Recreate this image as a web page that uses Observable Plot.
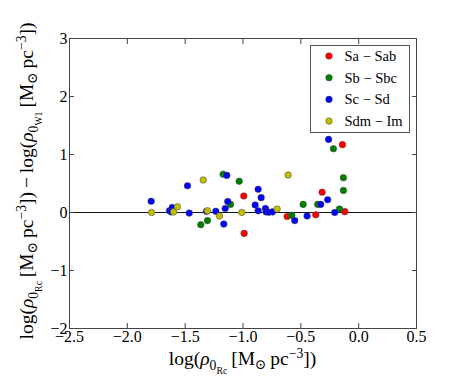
<!DOCTYPE html>
<html>
<head>
<meta charset="utf-8">
<script src="https://cdn.jsdelivr.net/npm/d3@7"></script>
<script src="https://cdn.jsdelivr.net/npm/@observablehq/plot@0.6"></script>
<style>
  html, body { margin: 0; padding: 0; background: #fff; }
  svg { font-family: "Liberation Serif", "DejaVu Serif", serif; }
</style>
</head>
<body>
<div id="chart"></div>
<script>
// ---- data ----
const categories = ["Sa \u2212 Sab", "Sb \u2212 Sbc", "Sc \u2212 Sd", "Sdm \u2212 Im"];
const colors = ["#ff0000", "#008000", "#0000ff", "#bfbf00"];

const saX = [-0.993, -0.99, -0.618, -0.371, -0.316, -0.14, -0.12];
const saY = [0.285, -0.36, -0.07, -0.04, 0.35, 1.17, 0.015];

const sbX = [-1.365, -1.307, -1.172, -1.108, -1.033, -0.578, -0.48, -0.354, -0.218, -0.166, -0.132, -0.132];
const sbY = [-0.21, -0.14, 0.66, 0.14, 0.54, -0.05, 0.14, 0.14, 1.10, 0.06, 0.60, 0.38];

const scX = [-1.794, -1.636, -1.612, -1.62, -1.48, -1.465, -1.316, -1.235, -1.166, -1.14, -1.132, -1.154, -0.869, -0.843, -0.895, -0.869, -0.806, -0.80, -0.777, -0.745, -0.553, -0.446, -0.328, -0.268, -0.26, -0.207];
const scY = [0.194, 0.03, 0.085, 0.01, 0.46, -0.01, 0.02, 0.02, -0.20, 0.64, 0.19, 0.07, 0.40, 0.256, 0.13, 0.03, 0.07, 0.01, 0.005, 0.01, -0.14, -0.06, 0.14, 0.22, 1.26, 0.0];

const sdX = [-1.79, -1.60, -1.567, -1.344, -1.307, -1.204, -1.01, -0.705, -0.61];
const sdY = [0.0, 0.01, 0.10, 0.56, 0.03, -0.06, 0.0, 0.06, 0.646];

const xTicks = [-2.5, -2.0, -1.5, -1.0, -0.5, 0.0, 0.5];
const yTicks = [-2, -1, 0, 1, 2, 3];

const seriesX = [saX, sbX, scX, sdX];
const seriesY = [saY, sbY, scY, sdY];
const points = [];
seriesX.forEach((xs, i) => xs.forEach((x, j) => points.push({x, y: seriesY[i][j], type: categories[i]})));

const W = 463, H = 386;
const mL = 69, mR = 47, mT = 38, mB = 58;

const plot = Plot.plot({
  width: W, height: H,
  marginLeft: mL, marginRight: mR, marginTop: mT, marginBottom: mB,
  style: {fontFamily: "Liberation Serif, DejaVu Serif, serif", background: "#fff"},
  x: {domain: [-2.5, 0.5]},
  y: {domain: [-2, 3]},
  color: {domain: categories, range: colors},
  marks: [
    Plot.ruleY([0], {stroke: "#111", strokeWidth: 1}),
    Plot.dot(points, {x: "x", y: "y", fill: "type", r: 3.3, stroke: "#444", strokeWidth: 0.5, fillOpacity: 1}),
    Plot.frame({stroke: "#444", strokeWidth: 1}),
    Plot.axisX({anchor: "bottom", ticks: xTicks, tickSize: -5, tickPadding: 7, tickFormat: d3.format(".1f"), label: null, fontSize: 16, stroke: "#444"}),
    Plot.axisX({anchor: "top", ticks: xTicks, tickSize: -5, tickFormat: () => "", label: null, stroke: "#444"}),
    Plot.axisY({anchor: "left", ticks: yTicks, tickSize: -5, tickPadding: 7, tickFormat: d3.format("d"), label: null, fontSize: 16, stroke: "#444"}),
    Plot.axisY({anchor: "right", ticks: yTicks, tickSize: -5, tickFormat: () => "", label: null, stroke: "#444"})
  ]
});
document.getElementById("chart").appendChild(plot);

const svg = d3.select(plot);

// helper: math-like text with sub/superscripts via tspans
function mathText(g, pieces, base) {
  const t = g.append("text").attr("font-size", base).attr("fill", "#000");
  let cur = 0;
  for (const p of pieces) {
    const [txt, scale, off, italic] = p;
    const ts = t.append("tspan").text(txt)
      .attr("font-size", base * scale)
      .attr("dy", (off - cur) * base);
    if (italic) ts.attr("font-style", "italic");
    cur = off;
  }
  return t;
}

const rcLabel = [
  ["log(", 1, 0], ["\u03C1", 1, 0, true], ["0", 0.7, 0.28], ["Rc", 0.5, 0.45],
  ["\u2009[M", 1, 0], ["\u2299", 0.7, 0.2], ["\u2009pc", 1, 0], ["\u22123", 0.7, -0.36], ["])", 1, 0]
];
const w1Label = [
  ["\u2009\u2212\u2009log(", 1, 0], ["\u03C1", 1, 0, true], ["0", 0.7, 0.28], ["W1", 0.5, 0.45],
  ["\u2009[M", 1, 0], ["\u2299", 0.7, 0.2], ["\u2009pc", 1, 0], ["\u22123", 0.7, -0.36], ["])", 1, 0]
];

// x label
const gx = svg.append("g").attr("transform", `translate(${mL + (W - mL - mR) / 2},365)`);
mathText(gx, rcLabel, 19.5).attr("text-anchor", "middle");

// y label
const gy = svg.append("g").attr("transform", `translate(33,${mT + (H - mT - mB) / 2 - 2}) rotate(-90)`);
mathText(gy, rcLabel.concat(w1Label), 19.5).attr("text-anchor", "middle");

// legend
const lg = svg.append("g").attr("transform", "translate(310.5,45.5)");
lg.append("rect").attr("width", 99).attr("height", 87).attr("fill", "#fff").attr("stroke", "#555").attr("stroke-width", 1);
categories.forEach((c, i) => {
  const yy = 10.5 + i * 21.7;
  lg.append("circle").attr("cx", 18.5).attr("cy", yy).attr("r", 3.3).attr("fill", colors[i]).attr("stroke", "#444").attr("stroke-width", 0.5);
  lg.append("text").attr("x", 34).attr("y", yy + 5).attr("font-size", 14.5).attr("text-anchor", "start").text(c);
});
</script>
</body>
</html>
